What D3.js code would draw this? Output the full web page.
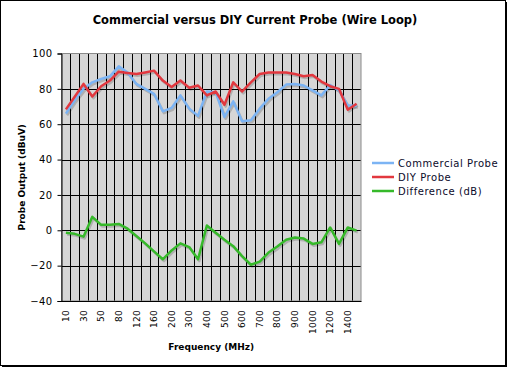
<!DOCTYPE html>
<html><head><meta charset="utf-8">
<script src="https://cdn.jsdelivr.net/npm/d3@7"></script>
<style>body{margin:0;background:#fff;} svg{display:block;}</style>
</head><body><svg id="c" width="511" height="369"></svg>
<script>
const categories = ["10","20","30","40","50","60","80","100","120","140","160","180","200","250","300","350","400","450","500","550","600","650","700","750","800","850","900","950","1000","1100","1200","1300","1400","1500"];
const commercial = [66,73.5,80,83.7,85.6,87.1,92.7,89.3,82.8,80,77.2,67.3,69.2,76.3,68.8,64.7,78.5,78.1,64.1,72.9,61.7,62.2,68.8,74.4,78.1,82.4,82.8,81.9,79.1,76.3,82.2,79.1,70.7,70.3];
const diy = [68.4,75.5,82.8,75.7,81.5,84.7,89.7,89,88.4,89.3,90.3,84.7,81,84.7,80.6,81.9,76.3,78.5,71,83.7,78.5,83.7,88.4,89.3,89.3,89.3,88.4,87.1,87.8,84.1,81.5,80,68.2,71.6];
const difference = [-1.4,-2,-3.6,7.6,3.1,3.1,3.6,0.9,-3.2,-7.4,-11.9,-16.4,-11.4,-7.4,-9.5,-16.4,2.7,-1.4,-5.4,-9,-14.6,-19.5,-17.7,-12.6,-9.2,-5.4,-4.1,-4.7,-7.7,-6.8,1.6,-7.7,1.6,-0.2];
const yTicks = [100,80,60,40,20,0,-20,-40];
const seriesNames = ["Commercial Probe","DIY Probe","Difference (dB)"];
const seriesColors = ["#7cb4f4","#e2383f","#36b92a"];

const svg = d3.select("#c");
const L=61.5, R=361, T=53.5, B=301;
const x = d3.scaleBand().domain(categories).range([L,R]).padding(0);
const y = d3.scaleLinear().domain([-40,100]).range([B,T]);
const font = "'DejaVu Sans', Verdana, sans-serif";

// outer frame
svg.append("rect").attr("x",0.5).attr("y",0.5).attr("width",505).attr("height",365)
  .attr("fill","#fff").attr("stroke","#000").attr("stroke-width",1);
svg.append("line").attr("x1",506.5).attr("x2",506.5).attr("y1",2).attr("y2",367).attr("stroke","#000").attr("stroke-width",1);
svg.append("line").attr("x1",2).attr("x2",507).attr("y1",366.5).attr("y2",366.5).attr("stroke","#000").attr("stroke-width",1);

// plot bg
svg.append("rect").attr("x",L).attr("y",T).attr("width",R-L).attr("height",B-T).attr("fill","#d6d6d6");

// vertical gridlines (category boundaries)
const bounds = categories.map(c=>x(c)).slice(1);
svg.append("g").selectAll("line").data(bounds).join("line")
  .attr("x1",d=>Math.round(d)+0.5).attr("x2",d=>Math.round(d)+0.5).attr("y1",T).attr("y2",B)
  .attr("stroke","#000").attr("stroke-width",1);
// horizontal gridlines
svg.append("g").selectAll("line").data(yTicks.filter(v=>v>-40&&v<100)).join("line")
  .attr("x1",L).attr("x2",R).attr("y1",d=>Math.round(y(d))+0.5).attr("y2",d=>Math.round(y(d))+0.5)
  .attr("stroke","#000").attr("stroke-width",1);
// plot border
svg.append("rect").attr("x",L).attr("y",T).attr("width",R-L).attr("height",B-T)
  .attr("fill","none").attr("stroke","#8a8a8a").attr("stroke-width",1);

// y axis
const ya = svg.append("g").attr("transform",`translate(${L},0)`)
  .call(d3.axisLeft(y).tickValues(yTicks).tickSize(4).tickPadding(5).tickFormat(d3.format("d")));
ya.select(".domain").attr("stroke","#000");
ya.selectAll("line").attr("stroke","#000");
ya.selectAll("text").attr("font-family",font).attr("font-size",10).attr("fill","#000").attr("letter-spacing",0.4);

// x axis
const xa = svg.append("g").attr("transform",`translate(0,${B})`)
  .call(d3.axisBottom(x).tickValues(categories.filter((c,i)=>i%2===0)).tickSize(0).tickPadding(0));
xa.select(".domain").attr("stroke","#000");
xa.selectAll("text").attr("font-family",font).attr("font-size",9).attr("fill","#000").attr("letter-spacing",0.3)
  .attr("text-anchor","end").attr("dy","0.35em").attr("x",0).attr("y",0)
  .attr("transform","translate(0,9) rotate(-90)");

// lines
const series = [commercial, diy, difference];
const line = d3.line().x((d,i)=>x(categories[i])+x.bandwidth()/2).y(d=>y(d));
const lg = svg.append("g");
series.forEach((s,k)=>{
  lg.append("path").datum(s).attr("d",line).attr("fill","none").attr("stroke","rgba(0,0,0,0.18)")
    .attr("stroke-width",2.5).attr("stroke-linejoin","round").attr("transform","translate(1.2,1.8)");
});
series.forEach((s,k)=>{
  lg.append("path").datum(s).attr("d",line).attr("fill","none").attr("stroke",seriesColors[k])
    .attr("stroke-width",2.5).attr("stroke-linejoin","round");
});

// title
svg.append("text").attr("x",255).attr("y",24).attr("text-anchor","middle")
  .attr("font-family",font).attr("font-weight","bold").attr("font-size",11.5).attr("fill","#000")
  .text("Commercial versus DIY Current Probe (Wire Loop)");
// axis titles
svg.append("text").attr("x",(L+R)/2).attr("y",350).attr("text-anchor","middle")
  .attr("font-family",font).attr("font-weight","bold").attr("font-size",9).attr("fill","#000")
  .text("Frequency (MHz)");
svg.append("text").attr("transform",`translate(25,${(T+B)/2}) rotate(-90)`).attr("text-anchor","middle")
  .attr("font-family",font).attr("font-weight","bold").attr("font-size",9).attr("fill","#000")
  .text("Probe Output (dBuV)");

// legend
const leg = svg.append("g");
seriesNames.forEach((n,k)=>{
  const yy = 163 + k*14;
  leg.append("line").attr("x1",372).attr("x2",394).attr("y1",yy).attr("y2",yy)
    .attr("stroke",seriesColors[k]).attr("stroke-width",2.5);
  leg.append("text").attr("x",398).attr("y",yy).attr("dy","0.35em").attr("letter-spacing",0.55)
    .attr("font-family",font).attr("font-size",10).attr("fill","#0a0a2a").text(n);
});
</script></body></html>
